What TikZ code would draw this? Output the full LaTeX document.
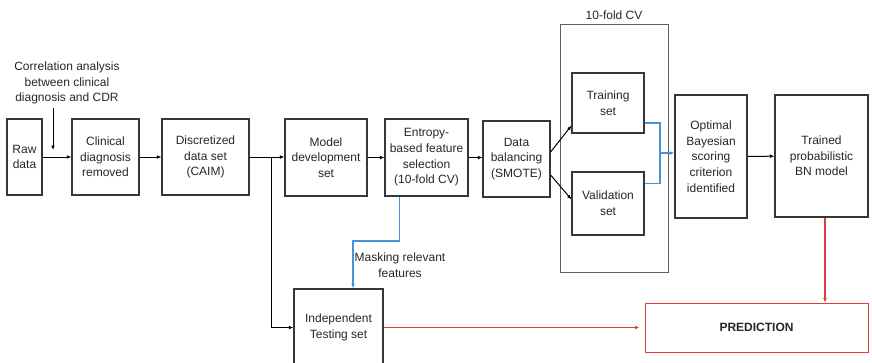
\documentclass[tikz,border=0pt]{standalone}
\usepackage{fontspec}
\setmainfont{Liberation Sans}
\usetikzlibrary{arrows.meta,positioning}

\definecolor{boxgray}{RGB}{55,55,55}
\definecolor{maskblue}{RGB}{70,145,220}
\definecolor{predred}{RGB}{225,60,60}

\tikzset{
	stage/.style={draw=boxgray, line width=1.2pt, align=center, inner sep=0pt, text=black!85, font=\fontsize{12}{15.7}\selectfont},
	note/.style={align=center, text=black!85, font=\fontsize{12}{15.7}\selectfont},
	flow/.style={-{Latex[length=4.5pt,width=3.8pt]}, line width=1pt},
	tinted/.style={line width=1.2pt},
}

\begin{document}
\begin{tikzpicture}[x=1pt,y=-1pt]
		\useasboundingbox (0,0) rectangle (872,362);
		
		\node[stage, minimum width=35pt, minimum height=76pt] (raw) at (24.5,157) {Raw\\data};
		\node[stage, minimum width=67pt, minimum height=76pt] (clin) at (105.5,157) {Clinical\\diagnosis\\removed};
		\node[stage, minimum width=87pt, minimum height=76pt] (disc) at (205.5,157) {Discretized\\data set\\(CAIM)};
		\node[stage, minimum width=82pt, minimum height=77pt] (model) at (326,157.5) {Model\\development\\set};
		\node[stage, minimum width=83pt, minimum height=77pt] (ent) at (426.5,157.5) {Entropy-\\based feature\\selection\\(10-fold CV)};
		\node[stage, minimum width=67pt, minimum height=76pt] (bal) at (516.5,159) {Data\\balancing\\(SMOTE)};
		
		\node[draw=boxgray!80, line width=0.9pt, minimum width=108pt, minimum height=248pt] (cv) at (614,148) {};
		\node[note, above=0pt of cv.north] (cvlbl) {10-fold CV};
		\node[stage, minimum width=72pt, minimum height=60pt] (train) at (608,103) {Training\\set};
		\node[stage, minimum width=72pt, minimum height=63pt] (val) at (608,203.5) {Validation\\set};
		
		\node[stage, minimum width=72pt, minimum height=123pt] (opt) at (711,156.5) {Optimal\\Bayesian\\scoring\\criterion\\identified};
		\node[stage, minimum width=93pt, minimum height=122pt] (trained) at (821.5,156) {Trained\\probabilistic\\BN model};
		
		\node[stage, minimum width=89pt, minimum height=77pt] (indep) at (338.5,327.5) {Independent\\Testing set};
		\node[stage, draw=predred, line width=1pt, minimum width=223pt, minimum height=49pt, font=\fontsize{12}{15.7}\selectfont\bfseries] (pred) at (756.5,327.5) {PREDICTION};
		
		\node[note] (corr) at (67,83) {Correlation analysis\\between clinical\\diagnosis and CDR};
		\node[note] (mask) at (400,265) {Masking relevant\\features};
		
		\coordinate (corrhit) at (53,150);
		\coordinate (split) at (271,157);
		\coordinate (join) at (660,153);
		\coordinate (maskturn) at (353,241);
		
		\draw[flow] (corr.south -| corrhit) -- (corrhit);
		\draw[flow] (raw) -- (clin);
		\draw[flow] (clin) -- (disc);
		\draw[flow] (disc.east) -- (disc.east -| model.west);
		\draw[flow] (split) |- (indep.west);
		\draw[flow] (model.east) -- (model.east -| ent.west);
		\draw[flow] (ent.east) -- (ent.east -| bal.west);
		\draw[flow] ([yshift=7pt]bal.east) -- ([yshift=8pt]train.south west);
		\draw[flow] ([yshift=-16pt]bal.east) -- ([yshift=-28pt]val.north west);
		
		\draw[maskblue, tinted] ([yshift=-20pt]train.east) -| (join) |- ([yshift=20pt]val.east);
		\draw[flow, tinted, maskblue] (join) -- (join -| opt.west);
		\draw[flow, tinted, maskblue] ([xshift=-27pt]ent.south) |- (maskturn) -- (maskturn |- indep.north);
		
		\draw[flow] (opt) -- (trained);
		\draw[flow, tinted, predred] ([xshift=3.5pt]trained.south) -- ([xshift=3.5pt]trained.south |- pred.north);
		\draw[flow, tinted, predred, shorten >=5pt] (indep.east) -- (pred.west);
	\end{tikzpicture}
\end{document}
